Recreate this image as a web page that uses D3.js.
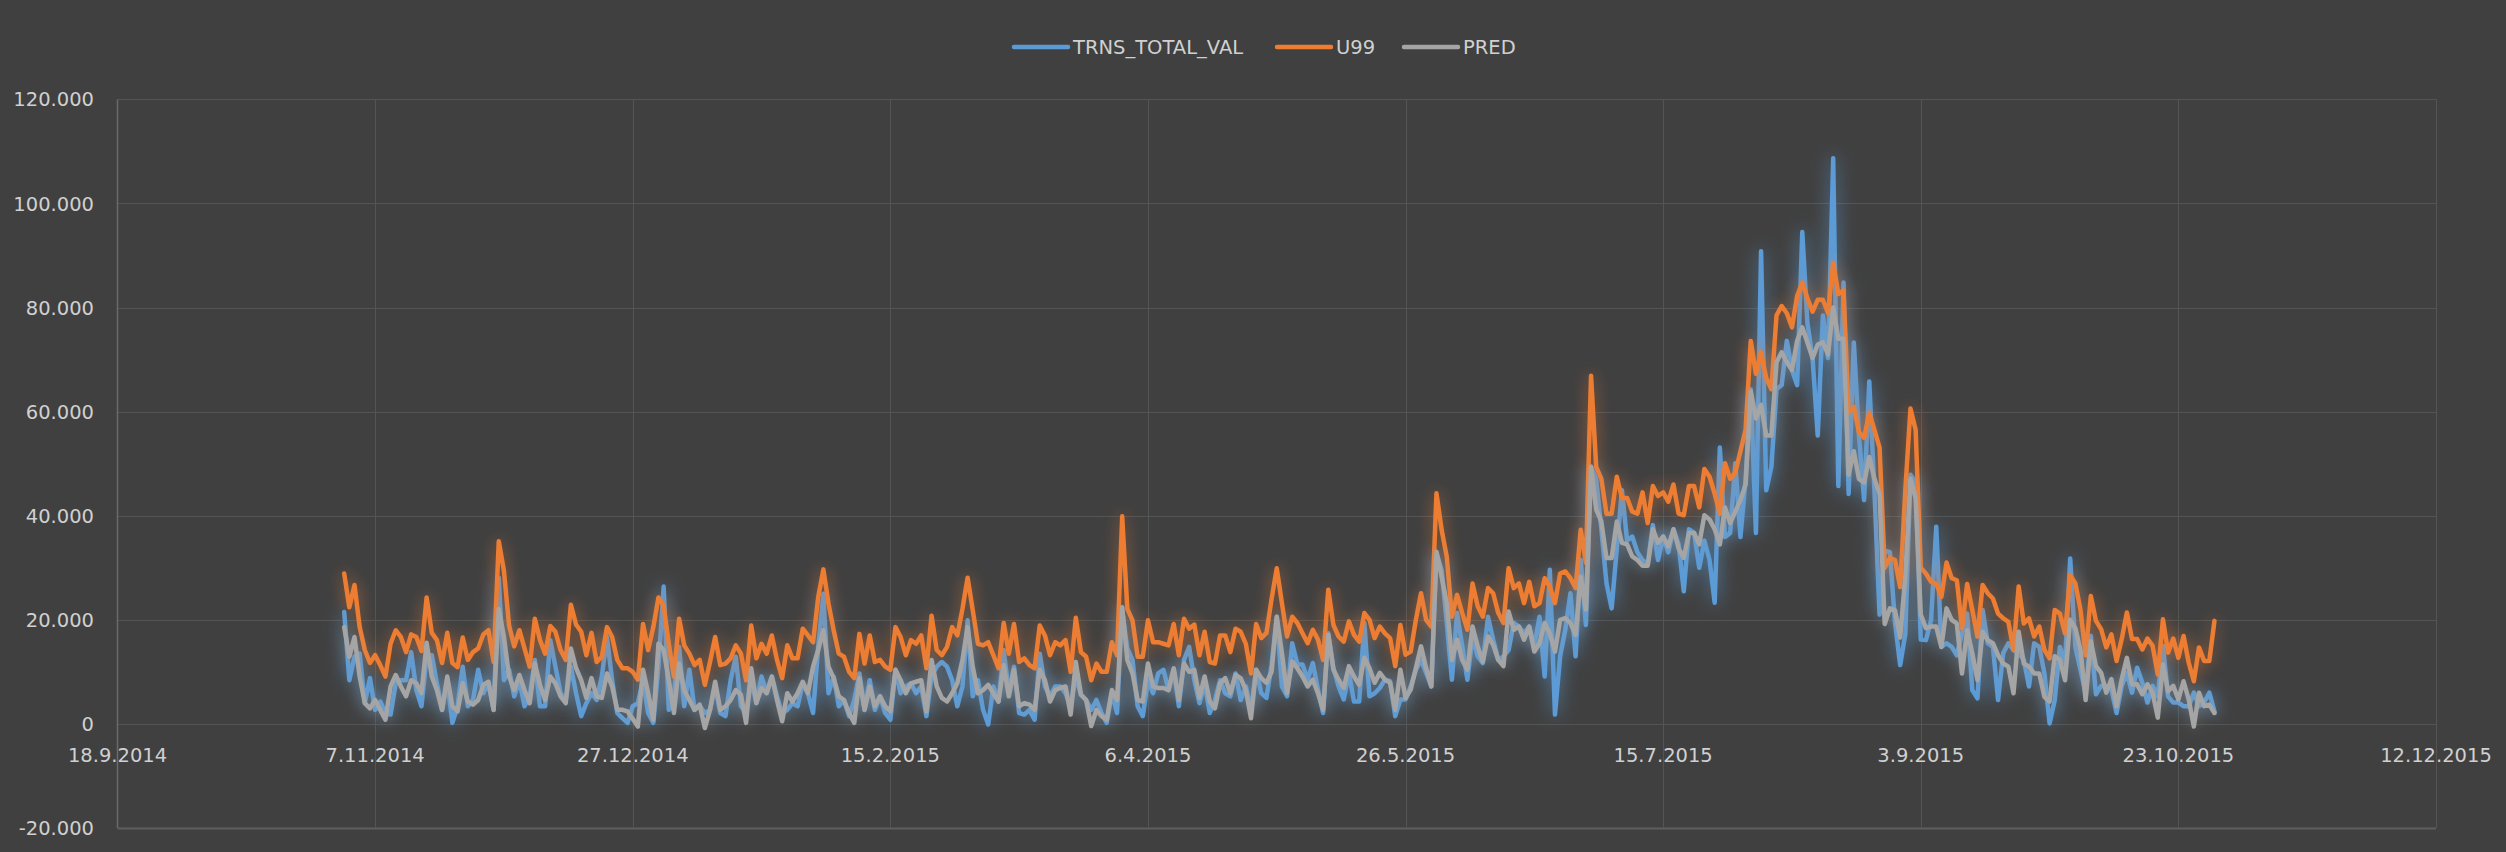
<!DOCTYPE html>
<html><head><meta charset="utf-8">
<script src="https://cdn.jsdelivr.net/npm/d3@7"></script>
<style>
html,body{margin:0;padding:0;background:#404040;}
svg{display:block;}
text{font-family:"DejaVu Sans",sans-serif;fill:#d0d0d0;}
</style></head>
<body>
<svg id="chart" width="2506" height="852"></svg>
<script>
// ---- data ----
const startDate = "2014-11-01"; // first daily observation
const seriesNames = ["TRNS_TOTAL_VAL", "U99", "PRED"];
const xTickLabels = ["18.9.2014","7.11.2014","27.12.2014","15.2.2015","6.4.2015","26.5.2015","15.7.2015","3.9.2015","23.10.2015","12.12.2015"];
const yTicks = [-20000,0,20000,40000,60000,80000,100000,120000];

const trnsTotalVal = [21500,8400,12900,13500,4000,8800,2700,4300,2100,1800,7800,8400,8400,13800,6500,3400,12900,13200,7800,2700,8400,200,3400,11000,3400,4600,10400,5900,7800,2700,
28100,8400,10400,5300,8400,3400,5300,12300,3400,3400,16100,11000,5900,4600,11000,5900,1500,4000,5900,4600,9100,16700,8400,2100,1100,200,3400,4000,8400,2100,
200,11000,26400,2700,5900,14800,3400,10400,2700,3400,2100,2700,7200,2100,1500,8400,12900,3400,2100,8400,4000,9100,5900,9100,5300,2100,2700,4000,3400,7800,
5900,2100,14800,25000,5900,9100,3400,4600,1500,4600,9700,2700,8400,2700,5300,2100,800,10400,5900,7200,7800,5900,7200,1500,9100,11000,11900,11000,8400,3400,
7200,19900,5300,8400,2700,-100,7200,4300,14200,5900,11000,2100,1800,2700,800,13500,7200,5300,7200,7200,5900,3400,9100,5600,4600,2700,4600,2100,200,5900,
2100,21800,14500,12300,3400,1500,8400,5900,9700,10400,6500,10400,3400,12300,14800,8400,4000,7800,2100,4600,8400,5900,5300,9700,4600,7200,2700,10400,5900,5000,
11400,20600,7200,5300,15500,11400,11400,8500,11700,6600,2100,17400,10700,7200,4700,9800,4300,4300,19400,5300,5900,6900,8500,8200,1500,4700,4700,7200,10400,12300,
9800,7200,32800,29600,19400,8500,21300,14900,8500,16800,13000,11700,20600,16200,12300,13000,14200,19400,18700,17400,18700,14900,20600,9100,29600,1800,13000,18100,25100,13000,
31500,19000,49400,47100,37400,27000,22200,33700,44900,35200,36000,33000,31500,30700,38200,31500,36000,33000,37400,34500,25500,37400,36700,30000,35200,31500,23300,53100,35900,36700,
50100,35900,47100,64300,36700,90800,44900,49400,64300,65100,73600,68000,65100,94500,77000,70300,55400,78500,70300,108700,45700,84800,44200,73300,55400,43000,65800,44900,21000,33300,
33000,19500,11300,17300,47900,46400,16200,16100,20000,37900,14800,15500,14800,13200,17400,21200,6500,4900,21900,15500,14800,4600,13600,15500,14200,13600,12300,7200,15500,14800,
9700,100,4600,14800,11600,31800,14800,10400,5900,16900,5700,7300,7300,6600,2100,7300,9800,6000,10800,7900,4100,7300,5300,15000,5300,4100,4100,3400,3400,6000,
3400,4100,6000,2400];

const u99 = [28900,22400,26700,18600,14200,11700,13200,11300,9100,15400,18000,16700,13800,17200,16700,14000,24300,17500,16100,11700,17500,11700,10900,16600,12300,13800,14500,17200,18000,11900,
35100,29400,18900,14900,18000,14500,11000,20200,16100,13500,18800,17700,14200,12300,22900,19100,17700,13200,17500,11900,12900,18600,16700,12300,10700,10700,10000,8500,19200,14200,
18600,24300,22700,15400,9100,20200,15100,13500,11300,12300,7500,11900,16700,11300,11600,12600,15100,13500,8400,18900,12600,15400,13500,17000,12300,8800,15100,12600,12600,18300,
17000,15700,24300,29700,23100,18000,13500,12900,10000,8800,17300,11600,17000,11900,12300,11000,10400,18600,16700,13200,16100,15400,17000,10700,20800,14200,13200,14800,18600,17000,
22100,28100,21800,15400,15100,15700,13200,10700,19400,13500,19200,11900,12600,11300,10700,18900,17000,13200,15700,15100,16100,10000,20400,13800,12900,8400,11600,10000,10000,15700,
13200,39900,22100,19900,12900,12900,19900,15700,15700,15400,15100,19200,13200,20200,18300,19100,13200,17700,11900,11600,17000,17000,13800,18300,17700,15400,9700,19200,16500,17500,
24000,29900,23200,16800,20600,19400,17400,15500,18100,16200,12300,25800,19000,16800,15800,19700,17100,15800,21300,20000,16500,18700,17400,16500,11100,19000,13300,13900,20000,25100,
20000,18700,44300,37300,32100,20600,24800,21300,18100,27000,22600,20600,26100,25100,21300,19400,29900,26100,27000,23200,27300,22600,23200,28000,26400,23200,28900,29300,28000,26100,
37300,31000,66900,49400,47100,40400,40400,47500,43400,43400,40800,40400,44500,38600,45700,43800,44500,42700,46000,40400,40100,45700,45700,41600,49000,47500,44200,40400,50100,47100,
48300,52400,56500,73600,67300,71400,66500,64300,78500,80300,78900,76200,82200,84800,81800,79200,81500,81500,78900,88600,82600,83300,59800,60900,56100,55000,59800,56500,53100,30000,
31900,31500,26300,44900,60600,56500,30000,28900,27300,27000,24400,31000,28000,27600,18400,26900,21900,16800,26700,25100,24100,21200,20300,19600,14200,26400,19300,20300,16800,18700,
14200,12600,21900,21200,17400,28600,27000,21900,13200,24600,19800,18200,14700,17200,12100,16300,21400,16300,16300,14300,16400,15000,9500,20100,13700,16400,12700,16900,11800,8200,
14700,12100,12100,19800];

const pred = [18600,12900,16700,9100,4000,3000,4600,2700,800,7200,9400,7200,5300,8400,7800,5900,15600,9100,6500,2700,9100,3400,2400,7800,4300,3700,4600,7500,8100,2700,
22100,16700,9100,6500,9400,6500,4000,11600,7500,4600,9100,7800,5300,4000,14500,10700,8400,5000,8800,5300,5000,9700,7200,2700,2700,2400,1000,-500,10400,5900,
800,15400,14200,8400,2100,11600,6500,4600,2700,3700,-800,2700,8100,2700,3400,4600,6500,5600,200,10700,4000,6900,5900,9100,4600,500,5900,4300,5900,8100,
5900,11000,14200,18000,11000,8800,5300,4600,2100,200,8800,2700,7200,3400,5300,3400,2400,10400,8400,5900,7800,8100,8400,2400,12300,7200,5000,4300,5900,7800,
12300,18600,11000,5900,6500,7500,5900,4300,11300,5300,10400,3400,4000,3700,2700,10400,8400,4300,6500,6900,7200,1800,11900,5600,4600,-400,2700,1500,800,6500,
4600,22400,12300,9700,4600,4300,11600,7200,6900,6900,6500,10700,4600,11600,10000,10400,5000,9100,4300,3000,7800,8800,5900,9400,8800,6500,1100,10400,8800,7900,
10000,20600,13600,5900,12000,10700,9100,7200,8500,5900,2700,17100,10400,8500,6900,11100,9100,7500,12700,10700,7900,9800,8500,7900,2700,10400,5000,6600,10700,14900,
10700,7200,33100,28300,23200,12300,16200,12300,10400,18700,14900,12000,16800,15200,12300,11100,21600,18100,18700,16200,18700,13900,15500,19400,17400,13900,20000,20300,19400,17100,
28300,22000,49400,41200,38900,31900,31900,38900,34800,34500,32200,31500,30400,30400,37400,34800,36000,34100,37400,33700,31900,36700,36700,34500,40100,39300,37400,34500,41600,38600,
40800,43000,46000,63900,58700,61300,55400,55400,69500,71400,69500,68000,73600,76200,73300,70300,72900,73300,71000,80000,74000,74000,47900,52400,47100,46400,51300,47100,44200,19200,
22200,21800,16600,28500,47100,43400,21000,18400,18700,18700,14800,22200,20000,19300,9700,18000,13600,8400,17700,16100,15500,13200,11600,11000,5900,17700,11600,11000,9700,9700,
5200,4300,13000,12300,8400,20000,18400,14200,4600,15900,11100,9800,6000,8600,3400,8600,12700,7600,7600,5700,7600,6000,1200,11400,6300,7300,4700,8200,4700,-500,
6000,3400,3700,2100];

// ---- layout ----
const W = 2506, H = 852;
const plot = {left: 117.5, right: 2436, top: 99.4, bottom: 828};
const colors = {TRNS_TOTAL_VAL: "#5b9bd5", U99: "#ed7d31", PRED: "#a5a5a5"};

const svg = d3.select("#chart");
svg.append("rect").attr("width", W).attr("height", H).attr("fill", "#404040");

const parse = d3.utcParse("%d.%m.%Y");
const tickDates = xTickLabels.map(parse);
const x = d3.scaleUtc().domain([tickDates[0], tickDates[tickDates.length-1]]).range([plot.left, plot.right]);
const y = d3.scaleLinear().domain([-20000, 120000]).range([plot.bottom, plot.top]);

const locale = d3.formatLocale({decimal: ",", thousands: ".", grouping: [3], currency: ["", ""], minus: "-"});
const yFmt = locale.format(",.0f");
const xFmt = d => `${d.getUTCDate()}.${d.getUTCMonth()+1}.${d.getUTCFullYear()}`;

// filters (glow)
const defs = svg.append("defs");
function glow(id, sd, op) {
  const f = defs.append("filter").attr("id", id).attr("x", "-5%").attr("y", "-20%").attr("width", "110%").attr("height", "140%");
  f.append("feGaussianBlur").attr("in", "SourceGraphic").attr("stdDeviation", sd).attr("result", "b");
  const ct = f.append("feComponentTransfer").attr("in", "b").attr("result", "bo");
  ct.append("feFuncA").attr("type", "linear").attr("slope", op);
  const m = f.append("feMerge");
  m.append("feMergeNode").attr("in", "bo");
  m.append("feMergeNode").attr("in", "SourceGraphic");
}
glow("gBlue", 9, 0.8);
glow("gOrange", 8, 0.55);
glow("gGray", 8, 0.45);

// horizontal gridlines
const gGrid = svg.append("g");
gGrid.selectAll("line.h").data(yTicks).join("line")
  .attr("x1", plot.left).attr("x2", plot.right)
  .attr("y1", d => Math.round(y(d)) + 0.5).attr("y2", d => Math.round(y(d)) + 0.5)
  .attr("stroke", d => d === -20000 ? "#5e5e5e" : "#545454").attr("stroke-width", d => d === -20000 ? 2 : 1);
// vertical gridlines
gGrid.selectAll("line.v").data(tickDates.slice(1)).join("line")
  .attr("x1", d => Math.round(x(d)) + 0.5).attr("x2", d => Math.round(x(d)) + 0.5)
  .attr("y1", plot.top).attr("y2", plot.bottom)
  .attr("stroke", "#545454").attr("stroke-width", 1);
// left axis line
svg.append("line").attr("x1", plot.left).attr("x2", plot.left).attr("y1", plot.top).attr("y2", plot.bottom)
  .attr("stroke", "#6a6a6a").attr("stroke-width", 1.5);

// y labels
svg.append("g").selectAll("text").data(yTicks).join("text")
  .attr("x", 94).attr("y", d => y(d)).attr("dy", "0.36em")
  .attr("text-anchor", "end").attr("font-size", 19.5).text(d => yFmt(d));

// x labels (placed under the zero line)
svg.append("g").selectAll("text").data(tickDates).join("text")
  .attr("x", d => x(d)).attr("y", y(0) + 31).attr("dy", "0.36em")
  .attr("text-anchor", "middle").attr("font-size", 19.5).text(d => xFmt(d));

// series
const start = d3.utcParse("%Y-%m-%d")(startDate);
const dates = trnsTotalVal.map((_, i) => d3.utcDay.offset(start, i));
const line = d3.line().x((d, i) => x(dates[i])).y(d => y(d));
const series = [
  {name: "TRNS_TOTAL_VAL", values: trnsTotalVal, filter: "gBlue"},
  {name: "U99", values: u99, filter: "gOrange"},
  {name: "PRED", values: pred, filter: "gGray"}
];
svg.append("g").selectAll("path").data(series).join("path")
  .attr("d", d => line(d.values))
  .attr("fill", "none").attr("stroke", d => colors[d.name]).attr("stroke-width", 4.5)
  .attr("stroke-linejoin", "round").attr("stroke-linecap", "round")
  .attr("filter", d => `url(#${d.filter})`);

// legend
const legendItems = [
  {name: seriesNames[0], x1: 1014, x2: 1068, tx: 1073},
  {name: seriesNames[1], x1: 1277, x2: 1331, tx: 1336},
  {name: seriesNames[2], x1: 1404, x2: 1458, tx: 1463}
];
const lg = svg.append("g");
lg.selectAll("line").data(legendItems).join("line")
  .attr("x1", d => d.x1).attr("x2", d => d.x2).attr("y1", 47).attr("y2", 47)
  .attr("stroke", d => colors[d.name]).attr("stroke-width", 4.5).attr("stroke-linecap", "round");
lg.selectAll("text").data(legendItems).join("text")
  .attr("x", d => d.tx).attr("y", 47).attr("dy", "0.36em").attr("font-size", 19.5)
  .text(d => d.name);
</script>
</body></html>
